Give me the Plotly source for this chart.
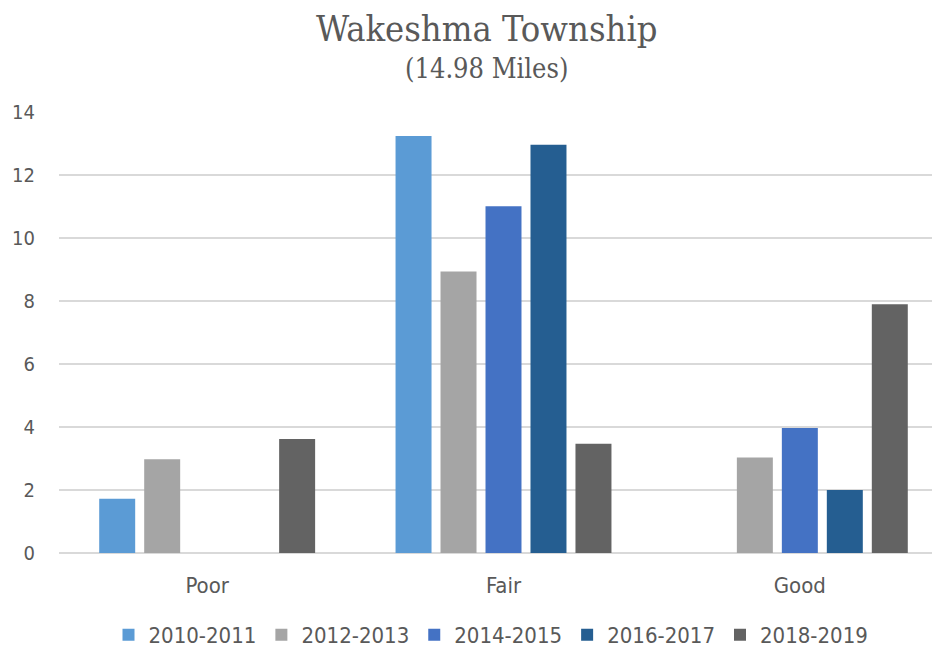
import plotly.graph_objects as go

categories = ["Poor", "Fair", "Good"]
series_names = ["2010-2011", "2012-2013", "2014-2015", "2016-2017", "2018-2019"]
v_2010_2011 = [1.72, 13.24, 0]
v_2012_2013 = [2.98, 8.94, 3.03]
v_2014_2015 = [0, 11.01, 3.97]
v_2016_2017 = [0, 12.96, 2.0]
v_2018_2019 = [3.62, 3.47, 7.9]
series_values = [v_2010_2011, v_2012_2013, v_2014_2015, v_2016_2017, v_2018_2019]
colors = ["#5B9BD5", "#A5A5A5", "#4472C4", "#255E91", "#636363"]
y_ticks = [0, 2, 4, 6, 8, 10, 12, 14]

fig = go.Figure()
for name, vals, c in zip(series_names, series_values, colors):
    fig.add_trace(go.Bar(x=categories, y=vals, name=name, marker_color=c,
                         marker_line_width=0))

txt_font = "DejaVu Sans Condensed, Open Sans, sans-serif"
title_font = "DejaVu Serif Condensed, serif"
plot_h = 441
plot_w = 889
title_x = (478.5 - 51) / plot_w
fig.update_layout(
    width=940, height=650,
    margin=dict(l=51, r=0, t=104, b=105, autoexpand=False),
    paper_bgcolor="white", plot_bgcolor="white",
    barmode="group", bargap=0.241, bargroupgap=0.2,
    font=dict(family=txt_font, size=19, color="#595959"),
    showlegend=True,
    legend=dict(orientation="h", x=(483 - 51) / plot_w, xanchor="center",
                y=-(627 - 545) / plot_h, yanchor="middle",
                font=dict(size=22, color="#595959"), itemwidth=30, traceorder="normal"),
    xaxis=dict(showgrid=False, showline=False, ticks="outside", ticklen=13,
               tickcolor="rgba(0,0,0,0)", tickfont=dict(size=22, color="#595959")),
    yaxis=dict(range=[0, 14], tickvals=y_ticks, showgrid=True, gridcolor="#D9D9D9",
               gridwidth=1.5, zeroline=True, zerolinecolor="#D9D9D9", zerolinewidth=1.5,
               ticks="outside", ticklen=19, tickcolor="rgba(0,0,0,0)",
               tickfont=dict(size=20, color="#595959")),
)
fig.add_annotation(text="Wakeshma Township", xref="paper", yref="paper", x=title_x,
                   y=1 + (104 - 20) / plot_h, yanchor="middle", showarrow=False,
                   font=dict(family=title_font, size=36, color="#595959"))
fig.add_annotation(text="(14.98 Miles)", xref="paper", yref="paper", x=title_x,
                   y=1 + (104 - 60) / plot_h, yanchor="middle", showarrow=False,
                   font=dict(family=title_font, size=27, color="#595959"))
fig.write_html("out.html")
